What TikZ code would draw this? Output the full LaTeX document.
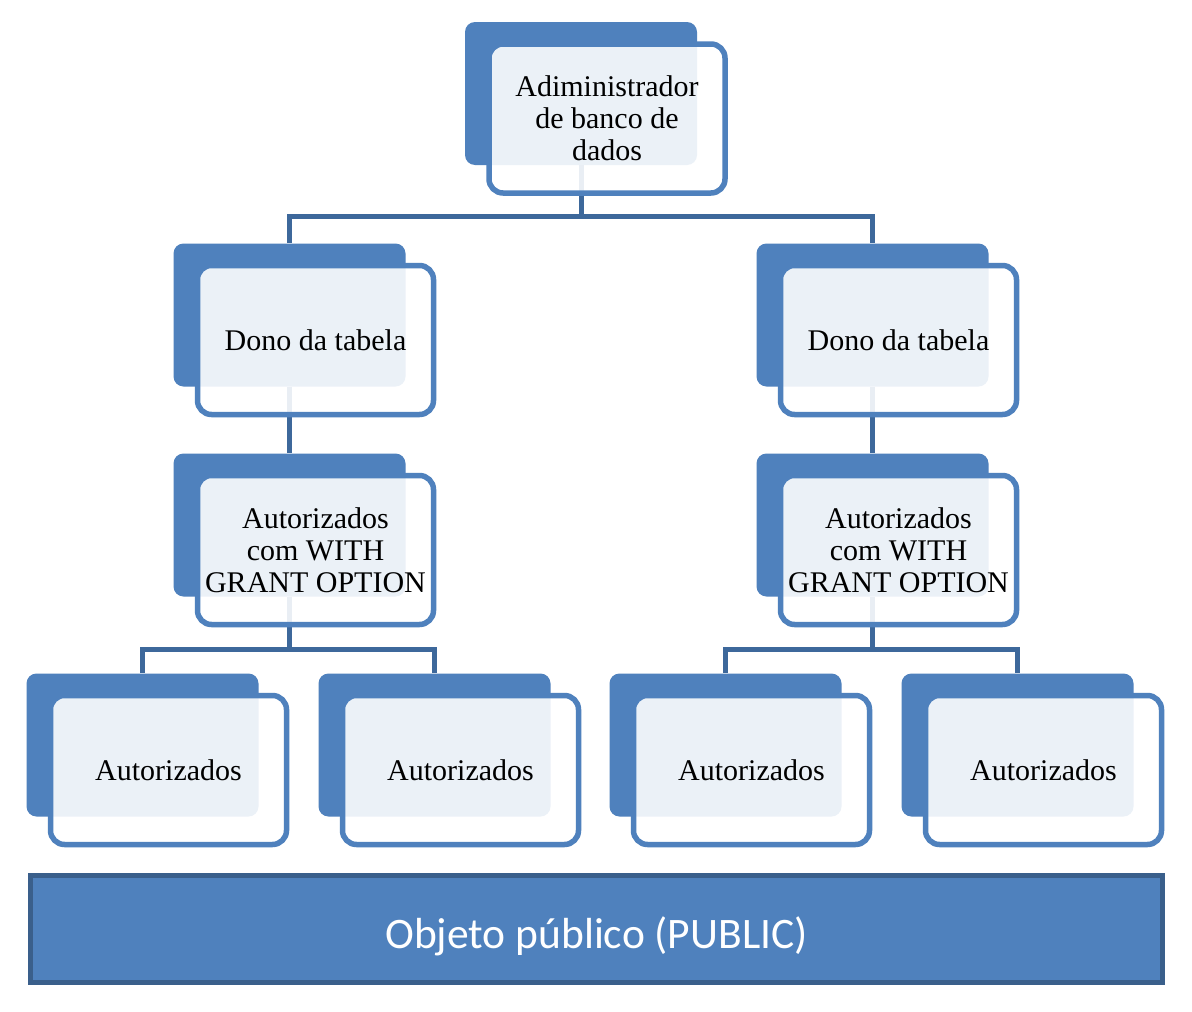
\documentclass[tikz,border=0pt]{standalone}
\usepackage{fontspec}
\setmainfont{Liberation Serif}
\newfontfamily\carlito{Carlito}
\definecolor{accent}{HTML}{4F81BD}
\definecolor{connc}{HTML}{3D689B}
\definecolor{bardark}{HTML}{3A5F8B}
\tikzset{
  backbox/.style={fill=accent, draw=none, rounded corners=10pt, minimum width=232pt, minimum height=143pt, inner sep=0pt},
  frontbox/.style={fill=white, fill opacity=0.89, text opacity=1, draw=accent, line width=5.5pt, rounded corners=14pt, minimum width=236pt, minimum height=149pt, inner sep=0pt, align=center, font=\fontsize{30}{32}\selectfont},
  conn/.style={draw=connc, line width=5pt},
  barbox/.style={fill=accent, draw=bardark, line width=5pt, minimum width=1132pt, minimum height=107pt, inner sep=0pt},
  bartext/.style={text=white, inner sep=0pt, font=\carlito\fontsize{43.5}{48}\selectfont}
}
\begin{document}
\begin{tikzpicture}[x=1pt,y=-1pt]
\useasboundingbox[fill=white] (0,0) rectangle (1192,1012);
% back boxes
\node[backbox] (topb) at (581,93.5) {};
\node[backbox] (m1b) at (289.5,315) {};
\node[backbox] (m2b) at (872.5,315) {};
\node[backbox] (g1b) at (289.5,525) {};
\node[backbox] (g2b) at (872.5,525) {};
\node[backbox] (a1b) at (142.5,745) {};
\node[backbox] (a2b) at (434.5,745) {};
\node[backbox] (a3b) at (725.5,745) {};
\node[backbox] (a4b) at (1017.5,745) {};
% connectors
\draw[conn] (topb.south) -- ++(0,51) -| (m1b.north);
\draw[conn] (topb.south) ++(0,51) -| (m2b.north);
\draw[conn] (m1b.south) -- (g1b.north);
\draw[conn] (m2b.south) -- (g2b.north);
\draw[conn] (g1b.south) -- ++(0,53) -| (a1b.north);
\draw[conn] (g1b.south) ++(0,53) -| (a2b.north);
\draw[conn] (g2b.south) -- ++(0,53) -| (a3b.north);
\draw[conn] (g2b.south) ++(0,53) -| (a4b.north);
% front boxes
\node[frontbox] (top) at (607,118.5) {Adiministrador\\de banco de\\dados};
\node[frontbox] (m1) at (315.5,340) {Dono da tabela};
\node[frontbox] (m2) at (898.5,340) {Dono da tabela};
\node[frontbox] (g1) at (315.5,550) {Autorizados\\com WITH\\GRANT OPTION};
\node[frontbox] (g2) at (898.5,550) {Autorizados\\com WITH\\GRANT OPTION};
\node[frontbox] (a1) at (168.5,770) {Autorizados};
\node[frontbox] (a2) at (460.5,770) {Autorizados};
\node[frontbox] (a3) at (751.5,770) {Autorizados};
\node[frontbox] (a4) at (1043.5,770) {Autorizados};
% public bar
\node[barbox] (pub) at (596.5,929) {};
\node[bartext] (pubt) at ([yshift=-7pt]pub.center) {Objeto público (PUBLIC)};
\end{tikzpicture}
\end{document}
